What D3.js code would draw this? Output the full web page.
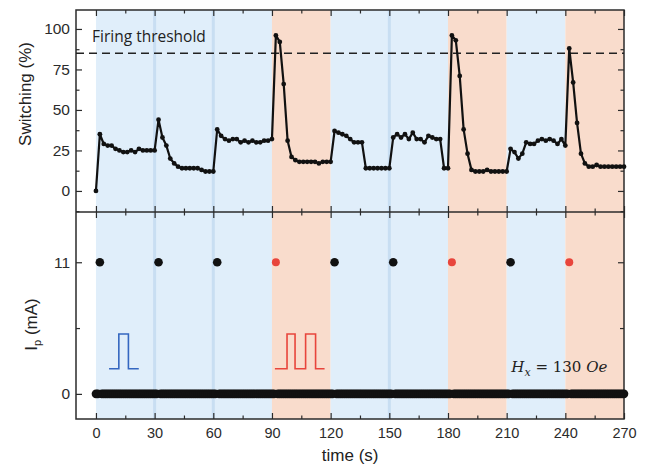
<!DOCTYPE html>
<html lang="en">
<head>
    <meta charset="UTF-8">
    <title>Switching vs pulse current</title>
    <style>
        body {
            margin: 0;
            background-color: #fff;
        }
        #chart-svg {
            display: block;
        }
        .tick text {
            font-family: "Liberation Sans", Arial, sans-serif;
            fill: #2b2b2b;
        }
        .tick line {
            stroke: #2b2b2b;
            stroke-width: 1.2px;
        }
    </style>
</head>
<body>

<svg id="chart-svg" width="650" height="466"></svg>

<script src="https://cdn.jsdelivr.net/npm/d3@7"></script>
<script>
    // switching (%) sampled every 2 s, one row per 30 s
    const sampleStep = 2;
    const switching = [
        0, 35, 29, 28, 28, 26, 25, 24, 24, 25, 24, 26, 25, 25, 25,
        25, 44, 33, 28, 20, 17, 15, 14, 14, 14, 14, 14, 13, 12, 12,
        12, 38, 34, 32, 31, 32, 32, 30, 31, 30, 31, 30, 30, 31, 31,
        32, 96, 92, 66, 31, 21, 19, 18, 18, 18, 18, 18, 17, 18, 18,
        18, 37, 36, 35, 34, 32, 30, 30, 30, 14, 14, 14, 14, 14, 14,
        14, 33, 35, 33, 35, 32, 36, 32, 32, 30, 34, 33, 32, 32, 14,
        14, 96, 93, 71, 38, 23, 13, 12, 12, 12, 13, 12, 12, 12, 12,
        12, 26, 24, 20, 23, 30, 29, 29, 31, 32, 31, 32, 31, 29, 32,
        28, 88, 67, 42, 23, 17, 15, 15, 16, 15, 15, 15, 15, 15, 15,
        15
    ];
    const firingThreshold = 85;

    // current pulses (mA); current is read every second, 0 between pulses
    const currentStep = 1;
    const currentEnd = 270;
    const pulseTimes = [2, 32, 62, 92, 122, 152, 182, 212, 242];
    const pulseKinds = ["single", "single", "single", "double", "single", "single", "double", "single", "double"];
    const pulseCurrent = 11;
    const restCurrent = 0;

    // background bands
    const bandStarts = [0, 90, 120, 180, 210, 240];
    const bandEnds = [90, 120, 180, 210, 240, 270];
    const bandKinds = ["single", "double", "single", "double", "single", "double"];
    const dividerTimes = [30, 60, 150];

    const xTicks = [0, 30, 60, 90, 120, 150, 180, 210, 240, 270];
    const xMinorTicks = [15, 45, 75, 105, 135, 165, 195, 225, 255];
    const topTicks = [0, 25, 50, 75, 100];
    const topMinorTicks = [-12.5, 12.5, 37.5, 62.5, 87.5];
    const bottomTicks = [0, 11];
    const bottomMinorTicks = [5.5];

    const colors = {single: "#e0eefa", double: "#f9dccc", divider: "#c8def2",
        singlePulse: "#3567c0", doublePulse: "#e8453c", ink: "#111"};

    const svg = d3.select("#chart-svg");

    const left = 76, right = 624, topY = 10, midY = 212, bottomY = 419;

    const x = d3.scaleLinear().domain([-10.2, 270]).range([left, right]);
    const yTop = d3.scaleLinear().domain([-13, 111.7]).range([midY, topY]);
    const yBot = d3.scaleLinear().domain([-2.1, 15.2]).range([bottomY, midY]);

    // bands in both panels
    const bands = bandStarts.map((s, i) => ({start: s, end: bandEnds[i], kind: bandKinds[i]}));
    [[topY, midY], [midY, bottomY]].forEach(([y0, y1]) => {
        svg.append("g").selectAll("rect")
            .data(bands)
            .enter().append("rect")
            .attr("x", d => x(d.start))
            .attr("width", d => x(d.end) - x(d.start))
            .attr("y", y0)
            .attr("height", y1 - y0)
            .attr("fill", d => colors[d.kind]);

        svg.append("g").selectAll("rect")
            .data(dividerTimes)
            .enter().append("rect")
            .attr("x", d => x(d) - 1.5)
            .attr("width", 3)
            .attr("y", y0)
            .attr("height", y1 - y0)
            .attr("fill", colors.divider);
    });

    // axes helper: inward ticks, no domain line
    function drawAxis(axis, tx, ty, values, size, labels, fontSize, padding) {
        const a = axis.tickValues(values).tickSizeInner(-size).tickSizeOuter(0)
            .tickPadding(padding || 6);
        if (!labels) a.tickFormat("");
        const g = svg.append("g")
            .attr("transform", `translate(${tx},${ty})`)
            .call(a);
        g.select(".domain").remove();
        g.selectAll("text").style("font-size", (fontSize || 15) + "px");
        return g;
    }

    // top panel axes
    drawAxis(d3.axisLeft(yTop), left, 0, topTicks, 6, true, 15.5, 6);
    drawAxis(d3.axisLeft(yTop), left, 0, topMinorTicks, 3.5, false);
    drawAxis(d3.axisRight(yTop), right, 0, topTicks, 6, false);
    drawAxis(d3.axisRight(yTop), right, 0, topMinorTicks, 3.5, false);
    drawAxis(d3.axisTop(x), 0, topY, xTicks, 6, false);
    drawAxis(d3.axisTop(x), 0, topY, xMinorTicks, 3.5, false);
    drawAxis(d3.axisBottom(x), 0, midY, xTicks, 6, false);
    drawAxis(d3.axisBottom(x), 0, midY, xMinorTicks, 3.5, false);

    // bottom panel axes
    drawAxis(d3.axisLeft(yBot), left, 0, bottomTicks, 6, true, 15.5, 6);
    drawAxis(d3.axisLeft(yBot), left, 0, bottomMinorTicks, 4, false);
    drawAxis(d3.axisRight(yBot), right, 0, bottomTicks, 6, false);
    drawAxis(d3.axisRight(yBot), right, 0, bottomMinorTicks, 4, false);
    drawAxis(d3.axisTop(x), 0, midY, xTicks, 6, false);
    drawAxis(d3.axisTop(x), 0, midY, xMinorTicks, 3.5, false);
    drawAxis(d3.axisBottom(x), 0, bottomY, xTicks, 6, true, 14.5, 9);
    drawAxis(d3.axisBottom(x), 0, bottomY, xMinorTicks, 3.5, false);

    // frames
    svg.append("rect")
        .attr("x", left).attr("y", topY)
        .attr("width", right - left).attr("height", bottomY - topY)
        .attr("fill", "none").attr("stroke", "#2b2b2b").attr("stroke-width", 1.5);
    svg.append("line")
        .attr("x1", left).attr("x2", right)
        .attr("y1", midY).attr("y2", midY)
        .attr("stroke", "#2b2b2b").attr("stroke-width", 1.5);

    // threshold
    svg.append("line")
        .attr("x1", left).attr("x2", right)
        .attr("y1", yTop(firingThreshold)).attr("y2", yTop(firingThreshold))
        .attr("stroke", "#222").attr("stroke-width", 1.3)
        .attr("stroke-dasharray", "8,5");
    svg.append("text")
        .attr("x", x(-2))
        .attr("y", yTop(92))
        .text("Firing threshold")
        .style("font-family", "'Open Sans', sans-serif")
        .style("font-size", "15.5px")
        .style("fill", "#222");

    // switching line + markers
    const pts = switching.map((v, i) => ({t: i * sampleStep, v: v}));
    svg.append("path")
        .datum(pts)
        .attr("fill", "none")
        .attr("stroke", colors.ink)
        .attr("stroke-width", 2.2)
        .attr("stroke-linejoin", "round")
        .attr("d", d3.line().x(d => x(d.t)).y(d => yTop(d.v)));
    svg.append("g").selectAll("circle")
        .data(pts)
        .enter().append("circle")
        .attr("cx", d => x(d.t))
        .attr("cy", d => yTop(d.v))
        .attr("r", 2.4)
        .attr("fill", colors.ink);

    // current samples: rest current except at pulse times
    const currentPts = d3.range(0, currentEnd + currentStep, currentStep).map(t => {
        const k = pulseTimes.indexOf(t);
        return {t: t, i: k >= 0 ? pulseCurrent : restCurrent, kind: k >= 0 ? pulseKinds[k] : null};
    });
    svg.append("g").selectAll("circle")
        .data(currentPts)
        .enter().append("circle")
        .attr("cx", d => x(d.t))
        .attr("cy", d => yBot(d.i))
        .attr("r", d => d.kind === "double" ? 4 : 4.3)
        .attr("fill", d => d.kind === "double" ? colors.doublePulse : colors.ink);

    // pulse shape icons, drawn in data units
    const pulseIcon = (start, widths, gaps, color) => {
        const base = 2.1, high = 5.0;
        const pathPts = [[start, base]];
        let t = start + gaps[0];
        widths.forEach((w, i) => {
            pathPts.push([t, base], [t, high], [t + w, high], [t + w, base]);
            t += w + gaps[i + 1];
        });
        pathPts.push([t, base]);
        svg.append("path")
            .attr("d", d3.line().x(d => x(d[0])).y(d => yBot(d[1]))(pathPts))
            .attr("fill", "none")
            .attr("stroke", color)
            .attr("stroke-width", 1.6);
    };
    pulseIcon(6.7, [4.9], [5.0, 5.3], colors.singlePulse);
    pulseIcon(91.5, [4.1, 5.1], [6.2, 5.4, 4.6], colors.doublePulse);

    // field label
    const hx = svg.append("text")
        .attr("x", x(261.5))
        .attr("y", yBot(1.85))
        .attr("text-anchor", "end")
        .style("font-family", "'DejaVu Serif', 'Liberation Serif', serif")
        .style("font-size", "15px")
        .style("fill", "#222");
    hx.append("tspan").style("font-style", "italic").text("H");
    hx.append("tspan").style("font-style", "italic").style("font-size", "11px").attr("dy", 4).text("x");
    hx.append("tspan").attr("dy", -4).text(" = 130 ");
    hx.append("tspan").style("font-style", "italic").text("Oe");

    // axis titles
    svg.append("text")
        .attr("transform", `translate(31,${(topY + midY) / 2 - 17}) rotate(-90)`)
        .attr("text-anchor", "middle")
        .style("font-family", "'Liberation Sans', Arial, sans-serif")
        .style("font-size", "17px")
        .style("fill", "#222")
        .text("Switching (%)");

    const ip = svg.append("text")
        .attr("transform", `translate(37,${(midY + bottomY) / 2 + 9}) rotate(-90)`)
        .attr("text-anchor", "middle")
        .style("font-family", "'Liberation Sans', Arial, sans-serif")
        .style("font-size", "17px")
        .style("fill", "#222");
    ip.append("tspan").text("I");
    ip.append("tspan").style("font-size", "11px").attr("dy", 4).text("p");
    ip.append("tspan").attr("dy", -4).text(" (mA)");

    svg.append("text")
        .attr("x", x(130))
        .attr("y", 461)
        .attr("text-anchor", "middle")
        .style("font-family", "'Liberation Sans', Arial, sans-serif")
        .style("font-size", "17px")
        .style("fill", "#222")
        .text("time (s)");
</script>

</body>
</html>
